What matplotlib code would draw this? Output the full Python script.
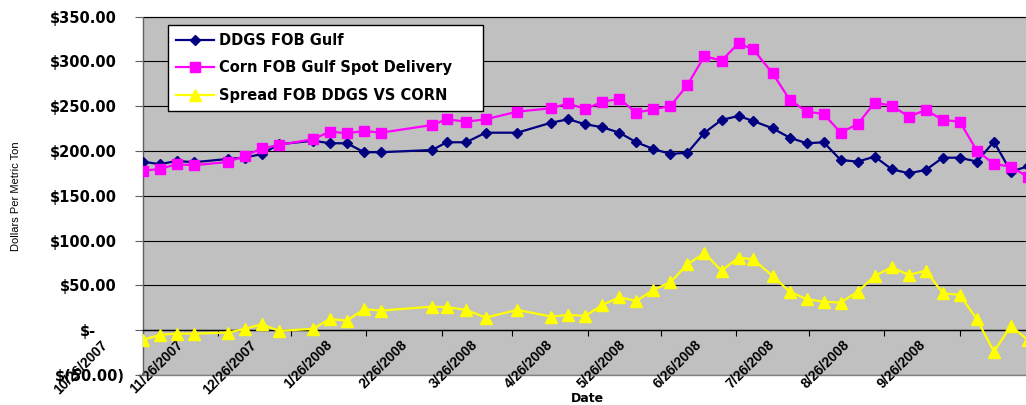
import matplotlib
matplotlib.use("Agg")
import matplotlib.pyplot as plt
import matplotlib.dates as mdates
from matplotlib.transforms import ScaledTranslation
import datetime as dt

dates = ["2007-10-26", "2007-11-02", "2007-11-09", "2007-11-16", "2007-11-30",
         "2007-12-07", "2007-12-14", "2007-12-21", "2008-01-04", "2008-01-11",
         "2008-01-18", "2008-01-25", "2008-02-01", "2008-02-22", "2008-02-28",
         "2008-03-07", "2008-03-15", "2008-03-28", "2008-04-11", "2008-04-18",
         "2008-04-25", "2008-05-02", "2008-05-09", "2008-05-16", "2008-05-23",
         "2008-05-30", "2008-06-06", "2008-06-13", "2008-06-20", "2008-06-27",
         "2008-07-03", "2008-07-11", "2008-07-18", "2008-07-25", "2008-08-01",
         "2008-08-08", "2008-08-15", "2008-08-22", "2008-08-29", "2008-09-05",
         "2008-09-12", "2008-09-19", "2008-09-26", "2008-10-03", "2008-10-10",
         "2008-10-17", "2008-10-24"]

ddgs = [188.2, 185.3, 189.0, 187.5, 191.2, 192.6, 196.8, 207.5, 211.6, 208.7,
        208.7, 198.7, 198.7, 201.2, 209.8, 209.8, 220.5, 220.5, 231.7, 235.5,
        229.9, 226.6, 220.5, 209.8, 202.3, 196.8, 198.2, 220.5, 234.7, 239.2,
        233.6, 225.4, 215.0, 208.7, 209.8, 190.0, 188.2, 193.8, 179.7, 175.2,
        178.9, 192.6, 192.6, 188.2, 210.5, 177.0, 183.0]

corn = [178.0, 180.0, 185.3, 184.2, 187.8, 194.5, 203.1, 206.8, 213.2, 221.7,
        219.9, 222.4, 220.5, 229.1, 235.5, 232.8, 235.5, 244.0, 247.8, 253.3,
        246.7, 255.1, 258.1, 242.9, 246.7, 250.3, 273.8, 306.1, 300.9, 320.3,
        313.6, 286.8, 257.5, 244.0, 241.4, 220.5, 230.2, 254.0, 250.7, 238.4,
        245.9, 234.7, 232.8, 200.4, 185.6, 182.6, 171.0]

spread = [-10.8, -5.2, -3.8, -3.8, -2.7, 1.5, 6.7, -0.8, 1.5, 12.6,
          10.7, 23.4, 21.9, 26.3, 25.7, 22.7, 14.1, 22.7, 15.2, 17.1,
          16.0, 28.2, 36.8, 32.7, 45.0, 53.6, 73.7, 85.9, 66.5, 81.0,
          79.2, 60.6, 43.1, 34.6, 31.9, 30.8, 43.1, 60.6, 70.3, 61.7,
          66.5, 41.3, 39.4, 12.3, -23.9, 4.8, -11.0]

series_names = ["DDGS FOB Gulf", "Corn FOB Gulf Spot Delivery", "Spread FOB DDGS VS CORN"]

tick_dates = ["2007-10-26", "2007-11-26", "2007-12-26", "2008-01-26", "2008-02-26",
              "2008-03-26", "2008-04-26", "2008-05-26", "2008-06-26", "2008-07-26",
              "2008-08-26", "2008-09-26"]
tick_labels = ["10/26/2007", "11/26/2007", "12/26/2007", "1/26/2008", "2/26/2008",
               "3/26/2008", "4/26/2008", "5/26/2008", "6/26/2008", "7/26/2008",
               "8/26/2008", "9/26/2008"]

y_ticks = [-50, 0, 50, 100, 150, 200, 250, 300, 350]
y_labels = ["$(50.00)", "$-", "$50.00", "$100.00", "$150.00", "$200.00",
            "$250.00", "$300.00", "$350.00"]

W, H = 1026, 405
fig = plt.figure(figsize=(W / 100, H / 100), dpi=100)
fig.patch.set_facecolor("white")

left_px, right_px, top_px, bot_px = 142.7, 1032.8, 16.7, 375.0
ax = fig.add_axes([left_px / W, 1 - bot_px / H, (right_px - left_px) / W, (bot_px - top_px) / H])
ax.set_facecolor("#C0C0C0")
ax.patch.set_edgecolor("#808080")
ax.patch.set_linewidth(1.0)

x = [dt.datetime.strptime(d, "%Y-%m-%d") for d in dates]

ax.plot(x, ddgs, color="#000080", lw=1.6, marker="D", ms=5.5, mec="#000080",
        mfc="#000080", label=series_names[0], zorder=4)
ax.plot(x, corn, color="#FF00FF", lw=1.6, marker="s", ms=7.5, mec="#FF00FF",
        mfc="#FF00FF", label=series_names[1], zorder=4)
ax.plot(x, spread, color="#FFFF00", lw=1.6, marker="^", ms=8.5, mec="#FFFF00",
        mfc="#FFFF00", label=series_names[2], zorder=4)

x0 = dt.datetime(2007, 10, 26)
ax.set_xlim(mdates.date2num(x0), mdates.date2num(x0) + 366)
ax.set_ylim(-50, 350)

for s in ["top", "right"]:
    ax.spines[s].set_visible(False)
ax.spines["left"].set_color("#606060")
ax.spines["bottom"].set_position(("data", 0))
ax.spines["bottom"].set_color("black")
ax.spines["bottom"].set_linewidth(1.0)
ax.spines["bottom"].set_zorder(3)

ax.tick_params(axis="y", direction="out", length=6, width=0.8, color="#606060", pad=7)
ax.tick_params(axis="x", direction="out", length=4, width=0.8, color="black", pad=0)

ax.set_yticks(y_ticks)
ax.set_yticklabels(y_labels)
ax.yaxis.grid(True, color="black", lw=0.8)
ax.set_axisbelow(True)

tdates = [dt.datetime.strptime(d, "%Y-%m-%d") for d in tick_dates]
ax.set_xticks(tdates)
ax.set_xticklabels(tick_labels)

ax.set_ylabel("Dollars Per Metric Ton", fontsize=8, family="Liberation Sans")
ax.yaxis.set_label_coords((21 - left_px) / (right_px - left_px), 0.5)
ax.set_xlabel("Date", fontsize=9, fontweight="bold", family="DejaVu Sans")
ax.xaxis.set_label_coords(0.5, (bot_px - 392) / (bot_px - top_px))

leg_x0 = (168.3 - left_px) / (right_px - left_px)
leg_w = (482.7 - 168.3) / (right_px - left_px)
leg_top = (bot_px - 25) / (bot_px - top_px)
leg = ax.legend(loc="upper left", bbox_to_anchor=(leg_x0, leg_top - 0.3, leg_w, 0.3),
                mode="expand", borderaxespad=0, fancybox=False, framealpha=1,
                edgecolor="black", facecolor="white", numpoints=1,
                prop={"family": "DejaVu Sans", "weight": "bold", "size": 10.5},
                handlelength=2.6, handletextpad=0.35, labelspacing=0.85, borderpad=0.55)
leg.get_frame().set_linewidth(1.0)
leg.set_zorder(10)

fig.canvas.draw()

# style and shift tick labels to mimic reference placement
for lbl in ax.get_xticklabels():
    lbl.set_rotation(45)
    lbl.set_ha("right")
    lbl.set_va("top")
    lbl.set_fontsize(10)
    lbl.set_fontweight("bold")
    lbl.set_family("Liberation Sans")
    lbl.set_transform(lbl.get_transform() + ScaledTranslation(-32 / 100, -2 / 100, fig.dpi_scale_trans))
for lbl, v in zip(ax.get_yticklabels(), y_ticks):
    lbl.set_fontsize(10.5)
    lbl.set_fontweight("bold")
    lbl.set_family("DejaVu Sans")
    if v > 0:
        off = -8
    elif v == 0:
        off = -29
    else:
        off = 0
    lbl.set_transform(lbl.get_transform() + ScaledTranslation(off / 100, 0, fig.dpi_scale_trans))

fig.savefig("out.png", dpi=100)
